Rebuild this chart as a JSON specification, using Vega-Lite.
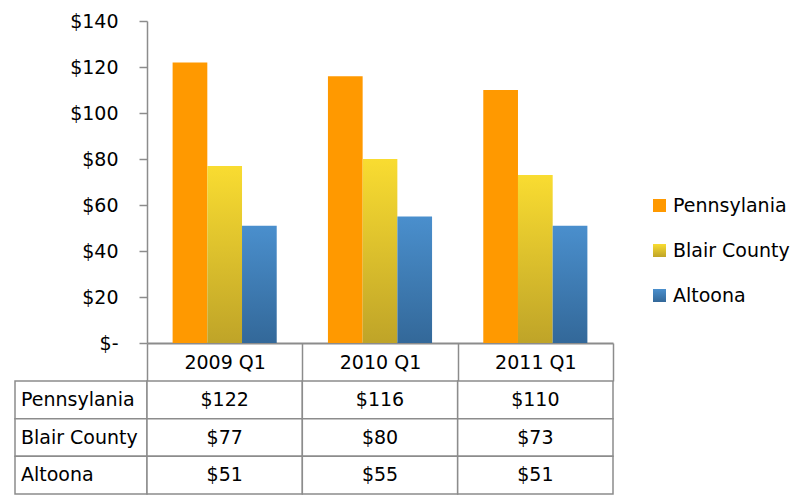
{
  "$schema": "https://vega.github.io/schema/vega-lite/v6.json",
  "padding": {"left": 14, "top": 12, "right": 5, "bottom": 0},
  "background": "white",
  "config": {"view": {"stroke": null}, "font": "DejaVu Sans"},
  "datasets": {
    "d": [
      {"quarter": "2009 Q1", "series": "Pennsylania", "value": 122},
      {"quarter": "2009 Q1", "series": "Blair County", "value": 77},
      {"quarter": "2009 Q1", "series": "Altoona", "value": 51},
      {"quarter": "2010 Q1", "series": "Pennsylania", "value": 116},
      {"quarter": "2010 Q1", "series": "Blair County", "value": 80},
      {"quarter": "2010 Q1", "series": "Altoona", "value": 55},
      {"quarter": "2011 Q1", "series": "Pennsylania", "value": 110},
      {"quarter": "2011 Q1", "series": "Blair County", "value": 73},
      {"quarter": "2011 Q1", "series": "Altoona", "value": 51}
    ]
  },
  "data": {"name": "d"},
  "columns": 2,
  "spacing": {"row": 38, "column": 0},
  "bounds": "flush",
  "resolve": {"scale": {"x": "independent", "y": "independent"}},
  "concat": [
    {
      "width": 132,
      "height": 322,
      "mark": {"type": "point", "opacity": 0}
    },
    {
      "width": 466,
      "height": 322,
      "mark": {"type": "bar"},
      "encoding": {
        "x": {
          "field": "quarter", "type": "nominal",
          "sort": ["2009 Q1", "2010 Q1", "2011 Q1"],
          "scale": {"paddingInner": 0, "paddingOuter": 0},
          "axis": {
            "title": null, "labelAngle": 0,
            "domainColor": "#8C8C8C", "domainWidth": 2,
            "tickColor": "#8C8C8C", "tickWidth": 1.5, "tickSize": 38, "tickBand": "extent",
            "labelFont": "DejaVu Sans", "labelFontSize": 19, "labelColor": "#000000",
            "labelBaseline": "middle", "labelPadding": -19
          }
        },
        "xOffset": {
          "field": "series", "type": "nominal",
          "sort": ["Pennsylania", "Blair County", "Altoona"],
          "scale": {"paddingInner": 0, "paddingOuter": 0.738}
        },
        "y": {
          "field": "value", "type": "quantitative",
          "scale": {"domain": [0, 140], "nice": false},
          "axis": {
            "title": null, "grid": false,
            "values": [0, 20, 40, 60, 80, 100, 120, 140],
            "labelExpr": "datum.value == 0 ? '$-\u00a0\u00a0' : '$' + datum.value",
            "domainColor": "#8C8C8C", "domainWidth": 1.5,
            "tickColor": "#8C8C8C", "tickWidth": 1.5, "tickSize": 8,
            "labelFont": "DejaVu Sans", "labelFontSize": 19, "labelColor": "#000000",
            "labelPadding": 21
          }
        },
        "color": {
          "field": "series", "type": "nominal",
          "scale": {
            "domain": ["Pennsylania", "Blair County", "Altoona"],
            "range": [
              "#FF9900",
              {"expr": "{gradient: 'linear', x1: 0, y1: 0, x2: 0, y2: 1, stops: [{offset: 0, color: '#F9DC31'}, {offset: 1, color: '#BFA428'}]}"},
              {"expr": "{gradient: 'linear', x1: 0, y1: 0, x2: 0, y2: 1, stops: [{offset: 0, color: '#4A8FCD'}, {offset: 1, color: '#336899'}]}"}
            ]
          },
          "legend": {
            "title": null, "orient": "none", "legendX": 635, "legendY": 175,
            "padding": 0, "symbolType": "square", "symbolSize": 169, "symbolStrokeWidth": 0,
            "labelFont": "DejaVu Sans", "labelFontSize": 19, "labelColor": "#000000",
            "labelOffset": 4, "rowPadding": 25
          }
        }
      }
    },
    {
      "width": 132,
      "height": 113,
      "transform": [{"filter": "datum.quarter == '2009 Q1'"}],
      "layer": [
        {
          "mark": {"type": "rect", "fill": "white", "stroke": "#8C8C8C", "strokeWidth": 1.5},
          "encoding": {
            "y": {
              "field": "series", "type": "nominal",
              "sort": ["Pennsylania", "Blair County", "Altoona"],
              "scale": {"paddingInner": 0, "paddingOuter": 0},
              "axis": null
            }
          }
        },
        {
          "mark": {"type": "text", "align": "left", "baseline": "middle", "dx": -60, "font": "DejaVu Sans", "fontSize": 19, "color": "#000000"},
          "encoding": {
            "y": {
              "field": "series", "type": "nominal",
              "sort": ["Pennsylania", "Blair County", "Altoona"],
              "axis": null
            },
            "text": {"field": "series"}
          }
        }
      ]
    },
    {
      "width": 466,
      "height": 113,
      "layer": [
        {
          "mark": {"type": "rect", "fill": "white", "stroke": "#8C8C8C", "strokeWidth": 1.5},
          "encoding": {
            "x": {
              "field": "quarter", "type": "nominal",
              "sort": ["2009 Q1", "2010 Q1", "2011 Q1"],
              "scale": {"paddingInner": 0, "paddingOuter": 0},
              "axis": null
            },
            "y": {
              "field": "series", "type": "nominal",
              "sort": ["Pennsylania", "Blair County", "Altoona"],
              "scale": {"paddingInner": 0, "paddingOuter": 0},
              "axis": null
            }
          }
        },
        {
          "mark": {"type": "text", "align": "center", "baseline": "middle", "font": "DejaVu Sans", "fontSize": 19, "color": "#000000"},
          "encoding": {
            "x": {
              "field": "quarter", "type": "nominal",
              "sort": ["2009 Q1", "2010 Q1", "2011 Q1"],
              "axis": null
            },
            "y": {
              "field": "series", "type": "nominal",
              "sort": ["Pennsylania", "Blair County", "Altoona"],
              "axis": null
            },
            "text": {"field": "value", "type": "quantitative", "format": "$.0f"}
          }
        }
      ]
    }
  ]
}
